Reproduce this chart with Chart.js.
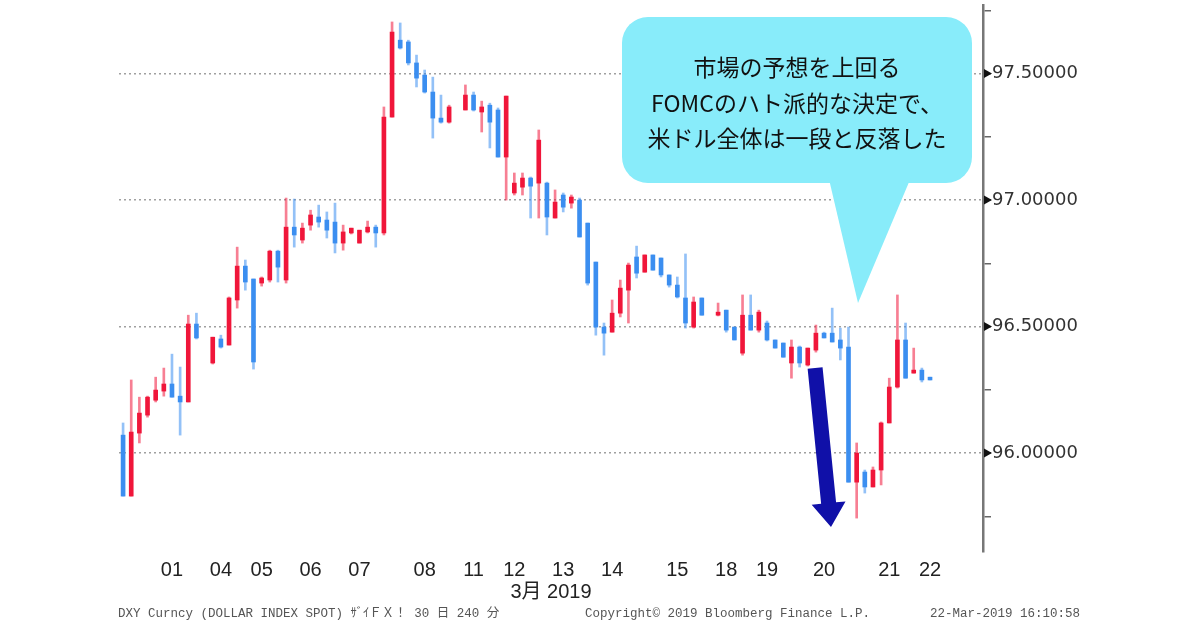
<!DOCTYPE html>
<html>
<head>
<meta charset="utf-8">
<script src="https://cdn.jsdelivr.net/npm/chart.js@4.4.0/dist/chart.umd.min.js"></script>
<style>
html, body { margin: 0; padding: 0; background: #fff; }
#wrap { width: 1200px; height: 630px; }
</style>
</head>
<body>
<div id="wrap"><canvas id="chart_canvas" width="1200" height="630"></canvas></div>
<script>
// DXY 240-minute bars, 1-22 Mar 2019 (null = empty slot in the bar row)
let opens = [
  96.071, 95.830, 96.079, 96.150, 96.209, 96.245, 96.273, 96.225, 96.202, 96.510, null,
  96.356, 96.451, 96.427, 96.605, 96.739, 96.688, 96.672, 96.684, 96.798, 96.684,
  96.893, 96.842, 96.901, 96.933, 96.921, 96.913, 96.830, 96.870, 96.830, 96.874,
  96.893, 96.870, 97.328, 97.632, 97.625, 97.542, 97.494, 97.427, 97.324, 97.308, null,
  97.356, 97.415, 97.348, 97.375, 97.356, 97.170, 97.028, 97.051, 97.087, 97.067,
  97.067, 96.929, 97.020, 96.988, 97.000, 96.909, 96.755, 96.498, 96.478, 96.553,
  96.644, 96.775, 96.715, 96.783, 96.771, 96.704, 96.664, 96.613, 96.498, 96.613, null,
  96.545, 96.565, 96.498, 96.395, 96.545, 96.486, 96.514, 96.447, 96.435, 96.356,
  96.419, 96.348, 96.407, 96.474, 96.474, 96.447, 96.419, 95.885, 95.925, 95.866,
  95.933, 96.119, 96.261, 96.447, 96.316, 96.328, 96.300
];
let highs = [
  96.119, 96.289, 96.221, 96.225, 96.300, 96.336, 96.391, 96.340, 96.545, 96.553, null,
  96.458, 96.466, 96.617, 96.814, 96.763, 96.688, 96.696, 96.802, 96.802, 97.008,
  97.004, 96.909, 96.960, 96.980, 96.953, 96.988, 96.901, 96.889, 96.881, 96.917,
  96.901, 97.368, 97.704, 97.700, 97.632, 97.573, 97.514, 97.486, 97.415, 97.375, null,
  97.455, 97.427, 97.391, 97.383, 97.364, 97.411, 97.107, 97.107, 97.091, 97.277,
  97.071, 97.040, 97.028, 97.020, 97.008, 96.909, 96.755, 96.514, 96.605, 96.684,
  96.751, 96.818, 96.783, 96.783, 96.771, 96.704, 96.696, 96.787, 96.617, 96.613, null,
  96.593, 96.565, 96.498, 96.625, 96.625, 96.565, 96.522, 96.447, 96.435, 96.447,
  96.423, 96.415, 96.506, 96.478, 96.573, 96.494, 96.498, 96.040, 95.933, 95.945,
  96.123, 96.296, 96.625, 96.514, 96.415, 96.336, 96.300
];
let lows = [
  95.830, 95.830, 96.040, 96.142, 96.202, 96.225, 96.221, 96.071, 96.202, 96.451, null,
  96.352, 96.415, 96.427, 96.573, 96.644, 96.332, 96.660, 96.676, 96.676, 96.672,
  96.814, 96.830, 96.881, 96.893, 96.850, 96.791, 96.802, 96.866, 96.830, 96.870,
  96.814, 96.862, 97.328, 97.597, 97.534, 97.447, 97.423, 97.245, 97.304, 97.304, null,
  97.356, 97.352, 97.269, 97.206, 97.170, 97.000, 97.020, 97.020, 96.929, 96.929,
  96.862, 96.929, 96.953, 96.968, 96.854, 96.664, 96.466, 96.387, 96.478, 96.538,
  96.514, 96.692, 96.715, 96.723, 96.696, 96.656, 96.613, 96.494, 96.494, 96.545, null,
  96.542, 96.478, 96.447, 96.387, 96.486, 96.478, 96.443, 96.415, 96.379, 96.296,
  96.340, 96.344, 96.399, 96.455, 96.439, 96.368, 95.885, 95.743, 95.842, 95.866,
  95.874, 96.119, 96.257, 96.296, 96.316, 96.281, 96.289
];
let closes = [
  95.830, 96.083, 96.158, 96.221, 96.249, 96.273, 96.221, 96.202, 96.510, 96.455, null,
  96.458, 96.419, 96.613, 96.739, 96.676, 96.360, 96.692, 96.798, 96.735, 96.893,
  96.862, 96.889, 96.941, 96.913, 96.881, 96.830, 96.874, 96.889, 96.881, 96.893,
  96.870, 97.328, 97.664, 97.601, 97.542, 97.482, 97.427, 97.324, 97.308, 97.368, null,
  97.415, 97.356, 97.368, 97.308, 97.170, 97.411, 97.067, 97.087, 97.055, 97.237,
  96.933, 96.992, 96.972, 97.012, 96.854, 96.672, 96.498, 96.474, 96.553, 96.652,
  96.743, 96.711, 96.783, 96.723, 96.704, 96.664, 96.617, 96.514, 96.597, 96.545, null,
  96.557, 96.486, 96.447, 96.545, 96.486, 96.557, 96.447, 96.415, 96.379, 96.419,
  96.356, 96.415, 96.474, 96.455, 96.439, 96.415, 95.885, 96.000, 95.866, 95.933,
  96.119, 96.261, 96.447, 96.296, 96.328, 96.289, 96.289
];

// day labels under the axis and the bar slot each one sits under
let dayTicks = ['01', '04', '05', '06', '07', '08', '11', '12', '13', '14', '15', '18', '19', '20', '21', '22'];
let daySlots = [6, 12, 17, 23, 29, 37, 43, 48, 54, 60, 68, 74, 79, 86, 94, 99];
let slotCount = 106;
let monthLabel = '3月 2019';

let calloutLines = ['市場の予想を上回る', 'FOMCのハト派的な決定で、', '米ドル全体は一段と反落した'];

const UP = '#f0163a', DOWN = '#3b8ef0';
const UP_WICK = 'rgba(240,22,58,0.55)', DOWN_WICK = 'rgba(59,142,240,0.55)';

let slotLabels = [];
for (let i = 0; i < slotCount; i++) slotLabels.push('');
daySlots.forEach((s, k) => { slotLabels[s] = dayTicks[k]; });

let bodies = opens.map((o, i) => o === null ? null : [Math.min(o, closes[i]), Math.max(o, closes[i])]);
let wicks = lows.map((l, i) => l === null ? null : [l, highs[i]]);
let isUp = opens.map((o, i) => o !== null && closes[i] >= o);

function isMajor(v) {
  return Math.abs(v * 2 - Math.round(v * 2)) < 1e-6;
}

function drawArrow(ctx, x1, y1, x2, y2, shaft, head, headLen) {
  let dx = x2 - x1, dy = y2 - y1, len = Math.hypot(dx, dy);
  let ux = dx / len, uy = dy / len, px = -uy, py = ux;
  let bx = x2 - ux * headLen, by = y2 - uy * headLen;
  ctx.beginPath();
  ctx.moveTo(x1 + px * shaft / 2, y1 + py * shaft / 2);
  ctx.lineTo(bx + px * shaft / 2, by + py * shaft / 2);
  ctx.lineTo(bx + px * head / 2, by + py * head / 2);
  ctx.lineTo(x2, y2);
  ctx.lineTo(bx - px * head / 2, by - py * head / 2);
  ctx.lineTo(bx - px * shaft / 2, by - py * shaft / 2);
  ctx.lineTo(x1 - px * shaft / 2, y1 - py * shaft / 2);
  ctx.closePath();
  ctx.fill();
}

const extras = {
  id: 'extras',
  afterDraw(chart) {
    const ctx = chart.ctx, xs = chart.scales.x, ys = chart.scales.y;
    ctx.save();

    // black pointers on the major price ticks
    ctx.fillStyle = '#111';
    ys.ticks.forEach((t) => {
      if (!isMajor(t.value)) return;
      let y = ys.getPixelForValue(t.value);
      ctx.beginPath();
      ctx.moveTo(ys.left + 1, y - 4.5);
      ctx.lineTo(ys.left + 1, y + 4.5);
      ctx.lineTo(ys.left + 9, y);
      ctx.closePath();
      ctx.fill();
    });

    // blue arrow after the FOMC bars
    ctx.fillStyle = '#1010a8';
    drawArrow(ctx, xs.getPixelForValue(84.9), ys.getPixelForValue(96.336),
      xs.getPixelForValue(86.85), ys.getPixelForValue(95.708), 15, 34, 24);

    // speech bubble
    ctx.fillStyle = '#88ecfa';
    ctx.beginPath();
    ctx.roundRect(622, 17, 350, 166, 26);
    ctx.fill();
    ctx.beginPath();
    ctx.moveTo(828, 175);
    ctx.lineTo(912, 175);
    ctx.lineTo(858, 303);
    ctx.closePath();
    ctx.fill();

    ctx.fillStyle = '#111';
    ctx.font = '23px "Noto Sans CJK JP"';
    ctx.textAlign = 'center';
    ctx.textBaseline = 'middle';
    [67, 103, 138].forEach((y, k) => ctx.fillText(calloutLines[k], 797, y));

    // source line
    ctx.fillStyle = '#555';
    ctx.font = '12.5px "Liberation Mono", "Noto Sans CJK JP"';
    ctx.textAlign = 'left';
    ctx.fillText('DXY Curncy (DOLLAR INDEX SPOT) ｻﾞｲＦＸ！ 30 日 240 分', 118, 614);
    ctx.fillText('Copyright© 2019 Bloomberg Finance L.P.', 585, 614);
    ctx.fillText('22-Mar-2019 16:10:58', 930, 614);
    ctx.restore();
  }
};

let ctx = document.getElementById('chart_canvas');

let dxy_chart = new Chart(ctx, { // eslint-disable-line no-unused-vars
  type: 'bar',
  data: {
    labels: slotLabels,
    datasets: [{
      label: 'body',
      data: bodies,
      backgroundColor: isUp.map((u) => u ? UP : DOWN),
      barThickness: 4,
      minBarLength: 2,
      grouped: false,
      order: 0
    }, {
      label: 'wick',
      data: wicks,
      backgroundColor: isUp.map((u) => u ? UP_WICK : DOWN_WICK),
      barThickness: 2,
      minBarLength: 1,
      grouped: false,
      order: 1
    }]
  },
  options: {
    responsive: false,
    devicePixelRatio: 1,
    animation: false,
    layout: { padding: { left: 119, right: 0, top: 5, bottom: 26 } },
    plugins: { legend: { display: false }, tooltip: { enabled: false } },
    scales: {
      x: {
        type: 'category',
        offset: true,
        grid: { display: false, drawTicks: false },
        border: { display: false },
        ticks: {
          autoSkip: false, maxRotation: 0, minRotation: 0, padding: 6,
          color: '#222',
          font: { family: '"Liberation Sans Narrow", "Liberation Sans"', size: 20 }
        },
        title: {
          display: true, text: monthLabel, color: '#222',
          padding: { top: 0, bottom: 0 },
          font: { family: '"Liberation Sans Narrow", "Liberation Sans", "Noto Sans CJK JP"', size: 20 }
        },
        afterFit(scale) { scale.height = 52; }
      },
      y: {
        position: 'right',
        min: 95.609,
        max: 97.771,
        border: { display: true, color: '#777', width: 2.5, dash: [2, 3] },
        grid: {
          color: (c) => (c.tick && isMajor(c.tick.value)) ? '#a0a0a0' : 'rgba(0,0,0,0)',
          lineWidth: 1.5,
          tickColor: '#666',
          tickLength: 8,
          tickWidth: 1.5,
          tickBorderDash: []
        },
        ticks: {
          stepSize: 0.25,
          includeBounds: false,
          padding: 1,
          color: '#333',
          font: { family: '"DejaVu Sans"', size: 18 },
          callback: (v) => isMajor(v) ? Number(v).toFixed(5) : ''
        },
        afterFit(scale) {
          scale.width = 217;
          scale.paddingTop = 0;
          scale.paddingBottom = 0;
        }
      }
    }
  },
  plugins: [extras]
});
</script>
</body>
</html>
